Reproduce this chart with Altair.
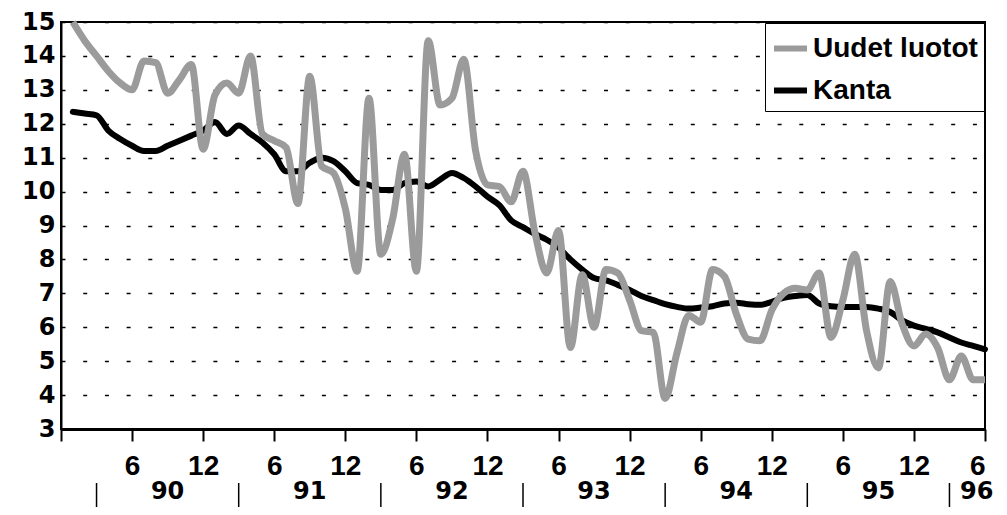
import altair as alt
import pandas as pd

# --- data ---
months = list(range(1, 79))  # 1 = tammikuu 1990 ... 78 = kesäkuu 1996
uudet = [15.0, 14.45, 14.0, 13.55, 13.2, 13.0, 13.85, 13.8, 12.9, 13.3, 13.75, 11.25,
         12.85, 13.2, 12.9, 14.0, 11.7, 11.5, 11.3, 9.65, 13.4, 10.75, 10.55, 9.5,
         7.65, 12.75, 8.15, 9.2, 11.1, 7.65, 14.45, 12.55, 12.75, 13.9, 11.2, 10.2,
         10.15, 9.7, 10.6, 8.8, 7.6, 8.85, 5.4, 7.55, 6.0, 7.7, 7.6, 6.8,
         5.9, 5.85, 3.9, 5.25, 6.35, 6.15, 7.7, 7.5, 6.4, 5.65, 5.6, 6.5,
         7.0, 7.15, 7.1, 7.6, 5.7, 6.8, 8.15, 5.9, 4.8, 7.35, 6.1, 5.45,
         5.8, 5.4, 4.45, 5.15, 4.45, 4.45]
kanta = [12.35, 12.3, 12.25, 11.8, 11.55, 11.35, 11.2, 11.2, 11.35, 11.5, 11.65, 11.8,
         12.05, 11.7, 11.95, 11.7, 11.45, 11.1, 10.6, 10.6, 10.85, 11.0, 10.9, 10.6,
         10.25, 10.2, 10.05, 10.05, 10.25, 10.3, 10.15, 10.35, 10.55, 10.4, 10.15, 9.85,
         9.6, 9.15, 8.95, 8.75, 8.58, 8.35, 8.0, 7.7, 7.45, 7.38, 7.25, 7.1,
         6.92, 6.8, 6.68, 6.6, 6.55, 6.58, 6.62, 6.7, 6.72, 6.68, 6.66, 6.75,
         6.87, 6.92, 6.95, 6.7, 6.62, 6.6, 6.6, 6.6, 6.55, 6.45, 6.2, 6.05,
         5.95, 5.85, 5.7, 5.55, 5.45, 5.35]

series_names = ["Uudet luotot", "Kanta"]
series_colors = ["#9b9b9b", "#000000"]

tick_values = list(range(0, 79, 6))
y_ticks = list(range(3, 16))

year_labels = ["90", "91", "92", "93", "94", "95", "96"]
year_pos = [9, 21, 33, 45, 57, 69, 77.3]
sep_pos = [3, 15, 27, 39, 51, 63, 75]

FONT = "Liberation Sans"
WIDE = "DejaVu Sans"

df_k = pd.DataFrame({"kk": months, "arvo": kanta, "sarja": "Kanta"})
df_u = pd.DataFrame({"kk": months, "arvo": uudet, "sarja": "Uudet luotot"})
df_years = pd.DataFrame({"kk": year_pos, "txt": year_labels})
df_sep = pd.DataFrame({"kk": sep_pos})

xscale = alt.Scale(domain=[0, 78], nice=False, zero=False)
yscale = alt.Scale(domain=[3, 15], nice=False, zero=False)

color = alt.Color(
    "sarja:N",
    scale=alt.Scale(domain=series_names, range=series_colors),
    legend=alt.Legend(
        title=None, orient="top-right", offset=1,
        strokeColor="black", fillColor="white", padding=6,
        symbolType="stroke", symbolSize=1089, symbolStrokeWidth=6,
        labelFont=FONT, labelFontSize=28, labelFontWeight="bold",
        labelColor="black", labelOffset=3, rowPadding=8, labelLimit=400,
        labelExpr="datum.label + '\u00a0\u00a0\u00a0'",
    ),
)

x_axis = alt.Axis(
    values=tick_values,
    labelExpr="datum.value == 0 ? '' : (datum.value % 12 == 0 ? '12' : '6')",
    title=None, grid=False,
    domainColor="black", domainWidth=3,
    ticks=True, tickColor="black", tickSize=12, tickWidth=2,
    labelFont=FONT, labelFontSize=28, labelFontWeight="bold", labelColor="black",
    labelBaseline="middle", labelPadding=25, labelOverlap=False,
)
y_axis = alt.Axis(
    values=y_ticks, title=None,
    grid=True, gridColor="black", gridDash=[4, 17.7], gridWidth=1.5,
    domainColor="black", domainWidth=2, ticks=False,
    labelFont=WIDE, labelFontSize=24, labelFontWeight="bold", labelColor="black",
    labelPadding=6, labelBaseline="middle",
)

X = alt.X("kk:Q", scale=xscale, axis=x_axis)
Y = alt.Y("arvo:Q", scale=yscale, axis=y_axis)

kanta_line = alt.Chart(df_k).mark_line(strokeWidth=6, strokeCap="round", interpolate="monotone").encode(
    x=X, y=Y, color=color,
)
uudet_line = alt.Chart(df_u).mark_line(strokeWidth=7, interpolate="monotone").encode(
    x=X, y=Y, color=color,
)
years = alt.Chart(df_years).mark_text(
    font=WIDE, fontSize=24, fontWeight="bold", baseline="middle", align="center", color="black"
).encode(
    x=X,
    y=alt.value(470),
    text="txt:N",
)
seps = alt.Chart(df_sep).mark_rule(color="black", strokeWidth=1.5).encode(
    x=X,
    y=alt.value(461),
    y2=alt.value(485),
)

chart = alt.layer(seps, years, kanta_line, uudet_line).properties(
    width=924, height=407,
    autosize=alt.AutoSizeParams(type="none"),
    padding={"left": 53, "top": 14, "right": 14, "bottom": 78},
    background="white",
).configure_view(stroke="black", strokeWidth=2)

chart.save("out.html", embed_options={"renderer": "svg", "actions": False})
